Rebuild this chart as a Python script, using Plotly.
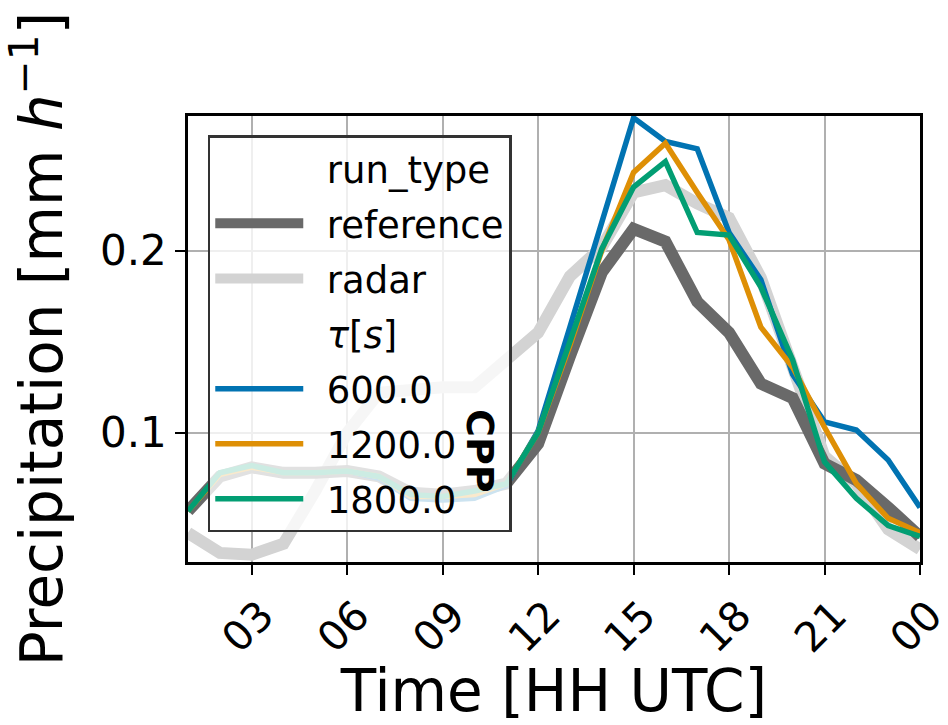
import plotly.graph_objects as go

hours = list(range(1, 25))
tick_vals = [3, 6, 9, 12, 15, 18, 21, 24]
tick_text = ["03", "06", "09", "12", "15", "18", "21", "00"]

reference = [0.057, 0.076, 0.081, 0.078, 0.078, 0.079, 0.076, 0.067, 0.066, 0.068, 0.072, 0.094,
             0.142, 0.188, 0.212, 0.205, 0.172, 0.155, 0.127, 0.119, 0.083, 0.074, 0.059, 0.043]
radar = [0.045, 0.034, 0.033, 0.039, 0.068, 0.100, 0.122, 0.124, 0.125, 0.125, 0.140, 0.155,
         0.186, 0.202, 0.232, 0.236, 0.226, 0.218, 0.185, 0.137, 0.087, 0.072, 0.047, 0.036]
tau600 = [0.057, 0.077, 0.081, 0.078, 0.078, 0.079, 0.075, 0.064, 0.063, 0.064, 0.071, 0.101,
          0.158, 0.215, 0.273, 0.260, 0.256, 0.210, 0.184, 0.132, 0.106, 0.1015, 0.085, 0.059]
tau1200 = [0.057, 0.077, 0.081, 0.078, 0.078, 0.079, 0.076, 0.065, 0.065, 0.066, 0.072, 0.100,
           0.148, 0.200, 0.243, 0.259, 0.232, 0.206, 0.158, 0.136, 0.103, 0.072, 0.053, 0.045]
tau1800 = [0.057, 0.078, 0.082, 0.078, 0.078, 0.079, 0.076, 0.066, 0.065, 0.068, 0.072, 0.100,
           0.150, 0.201, 0.235, 0.249, 0.210, 0.2086, 0.180, 0.140, 0.084, 0.064, 0.049, 0.043]

FONT = "DejaVu Sans"
SP = "\u2002"
fig = go.Figure()

def header(name, rank):
    fig.add_trace(go.Scatter(x=[None], y=[None], mode="lines", name=SP + name,
                             line=dict(color="rgba(0,0,0,0)", width=0),
                             legendrank=rank, legendgroup=name, hoverinfo="skip"))

header("run_type", 1)
header("<i>τ</i>[<i>s</i>]", 4)

fig.add_trace(go.Scatter(x=hours, y=radar, mode="lines", name=SP + "radar",
                         line=dict(color="#d3d3d3", width=12), legendrank=3, legendgroup="radar"))
fig.add_trace(go.Scatter(x=hours, y=reference, mode="lines", name=SP + "reference",
                         line=dict(color="#696969", width=12), legendrank=2, legendgroup="reference"))
fig.add_trace(go.Scatter(x=hours, y=tau600, mode="lines", name=SP + "600.0",
                         line=dict(color="#0173b2", width=5.5), legendrank=5, legendgroup="600"))
fig.add_trace(go.Scatter(x=hours, y=tau1200, mode="lines", name=SP + "1200.0",
                         line=dict(color="#de8f05", width=5.5), legendrank=6, legendgroup="1200"))
fig.add_trace(go.Scatter(x=hours, y=tau1800, mode="lines", name=SP + "1800.0",
                         line=dict(color="#029e73", width=5.5), legendrank=7, legendgroup="1800"))

fig.add_annotation(text="<b>CPP</b>", x=0.399, y=0.150, xref="paper", yref="paper",
                   showarrow=False, textangle=90, font=dict(family=FONT, size=38, color="black"))

fig.update_layout(
    width=948, height=725,
    margin=dict(l=188, r=28, t=116, b=163, autoexpand=False),
    paper_bgcolor="white", plot_bgcolor="white",
    font=dict(family=FONT, color="black"),
    showlegend=True,
    legend=dict(x=0.027, y=0.957, xanchor="left", yanchor="top",
                bgcolor="rgba(255,255,255,0.8)", bordercolor="#333333", borderwidth=2.5,
                font=dict(family=FONT, size=37, color="black"),
                traceorder="grouped", tracegroupgap=4, itemwidth=88),
    xaxis=dict(range=[1, 24], tickmode="array", tickvals=tick_vals, ticktext=tick_text,
               tickangle=-45, tickfont=dict(size=41), ticks="outside", ticklen=10, tickwidth=2,
               tickcolor="black", showline=True, linecolor="black", linewidth=2.5, mirror=True,
               showgrid=True, gridcolor="#b0b0b0", gridwidth=2, zeroline=False,
               ticklabelshift=10, ticklabeloverflow="allow",
               title=dict(text="Time [HH UTC]", font=dict(size=58), standoff=10)),
    yaxis=dict(range=[0.029, 0.274], tickmode="array", tickvals=[0.1, 0.2], ticktext=["0.1", "0.2"],
               tickfont=dict(size=42), ticks="outside", ticklen=10, tickwidth=2, tickcolor="black",
               showline=True, linecolor="black", linewidth=2.5, mirror=True,
               showgrid=True, gridcolor="#b0b0b0", gridwidth=2, zeroline=False,
               title=dict(text="Precipitation [mm <i>h</i><sup>−1</sup>]", font=dict(size=58), standoff=25)),
)

fig.write_html("out.html")
